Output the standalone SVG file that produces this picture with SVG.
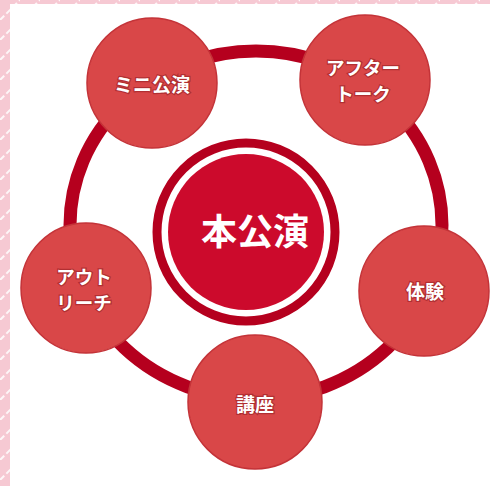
<svg xmlns="http://www.w3.org/2000/svg" width="490" height="486" viewBox="0 0 490 486">
<defs>
<pattern id="stripe" patternUnits="userSpaceOnUse" width="20" height="20">
<rect width="20" height="20" fill="#f6c9d3"/>
<path d="M-5,5 L5,-5 M0,20 L20,0 M15,25 L25,15" stroke="#ffffff" stroke-width="2" stroke-dasharray="6,3" opacity="0.85"/>
</pattern>
<style>
.node{fill:#d94748;stroke:#c43338;stroke-width:1.5}
.lbl{font-family:"Noto Sans CJK JP","Noto Sans",sans-serif;font-weight:700;font-size:19px;fill:#ffffff;text-anchor:middle;dominant-baseline:central;stroke:#8f1a1f;stroke-width:2.5;stroke-opacity:0.55;paint-order:stroke}
.ml{font-size:18.5px}
.orbit{fill:none;stroke:#b5001e;stroke-width:13}
</style>
</defs>
<rect x="0" y="0" width="490" height="486" fill="url(#stripe)"/>
<rect x="10" y="4" width="480" height="482" fill="#ffffff"/>
<g id="connectors">
<ellipse class="orbit" cx="256" cy="225" rx="186" ry="174"/>
</g>
<g id="main">
<circle cx="246" cy="232" r="89" fill="#ffffff" stroke="#b5001e" stroke-width="9"/>
<circle cx="246" cy="232" r="78" fill="#cc0a2c"/>
<text x="255" y="229" font-family="'Noto Sans CJK JP','Noto Sans',sans-serif" font-weight="700" font-size="36" fill="#ffffff" text-anchor="middle" dominant-baseline="central">本公演</text>
</g>
<g id="mini">
<circle class="node" cx="152" cy="83" r="65"/>
<text class="lbl" x="152" y="83">ミニ公演</text>
</g>
<g id="after">
<circle class="node" cx="365" cy="80" r="65"/>
<text class="lbl ml" x="363" y="67">アフター</text>
<text class="lbl ml" x="363" y="93">トーク</text>
</g>
<g id="taiken">
<circle class="node" cx="424" cy="291" r="65"/>
<text class="lbl" x="425" y="290" font-size="20">体験</text>
</g>
<g id="outreach">
<circle class="node" cx="86" cy="288" r="65"/>
<text class="lbl ml" x="84" y="276">アウト</text>
<text class="lbl ml" x="84" y="302">リーチ</text>
</g>
<g id="koza">
<circle class="node" cx="255" cy="402" r="67"/>
<text class="lbl" x="255" y="403" font-size="20">講座</text>
</g>
</svg>
